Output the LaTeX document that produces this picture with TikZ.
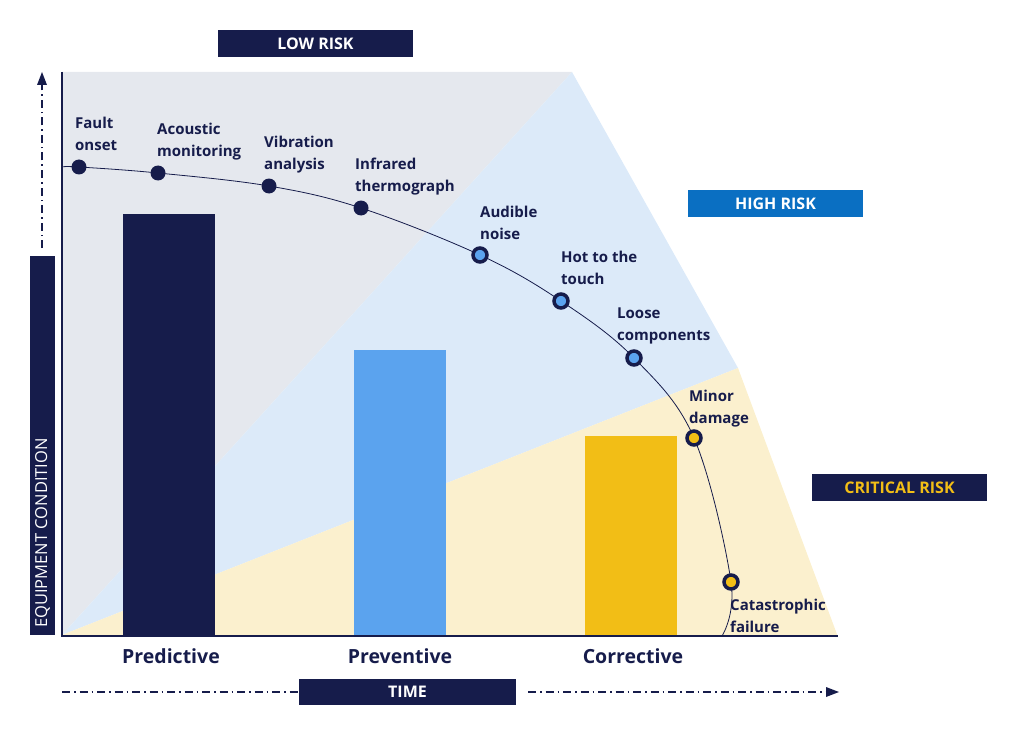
\documentclass[tikz,border=0pt]{standalone}
\usepackage{fontspec}
\setmainfont{Open Sans}
\begin{document}
\begin{tikzpicture}[x=1pt,y=-1pt,
  lbl/.style={anchor=north west,align=left,text=nv,font=\bfseries\fontsize{15}{22}\selectfont,inner sep=0pt},
  tag/.style={fill=nv,text=white,font=\bfseries\fontsize{16}{18}\selectfont,inner sep=0pt},
  cat/.style={text=nv,font=\bfseries\fontsize{19.5}{22}\selectfont},
  dd/.style={nv,line width=1.6pt,dash pattern=on 8pt off 4pt on 1.5pt off 4pt},
  d1/.style={circle,fill=nv,minimum size=15pt,inner sep=0pt},
  d2/.style={circle,draw=nv,line width=3.5pt,fill=bl,minimum size=14pt,inner sep=0pt},
  d3/.style={circle,draw=nv,line width=3.5pt,fill=yl,minimum size=14pt,inner sep=0pt}]
\definecolor{nv}{HTML}{161C4B}
\definecolor{bl}{HTML}{5BA3EE}
\definecolor{yl}{HTML}{F2BE16}
\definecolor{gr}{HTML}{E5E8EE}
\definecolor{lb}{HTML}{DCEAF9}
\definecolor{ly}{HTML}{FBF0CE}
\definecolor{hb}{HTML}{0A6FC2}
\useasboundingbox (0,0) rectangle (1024,730);
\fill[gr] (62,72) -- (572,72) -- (62,635) -- cycle;
\fill[lb] (62,635) -- (572,72) -- (738,368) -- cycle;
\fill[ly] (62,635) -- (738,368) -- (838,637) -- cycle;
\fill[nv] (123,214) rectangle (215,635);
\fill[bl] (354,350) rectangle (446,635);
\fill[yl] (585,436) rectangle (677,635);
\draw[nv,line width=2.5pt] (62,72) -- (62,636) -- (838,636);
\draw[nv,line width=0.8pt] plot[smooth,tension=0.6] coordinates {(62,167) (79,167) (158,173) (269,186) (361,208) (480,255) (561,301) (634,358) (694,438) (731,582) (722,636)};
\node[d1] (p1) at (79,167) {};
\node[d1] (p2) at (158,173) {};
\node[d1] (p3) at (269,186) {};
\node[d1] (p4) at (361,208) {};
\node[d2] (p5) at (480,255) {};
\node[d2] (p6) at (561,301) {};
\node[d2] (p7) at (634,358) {};
\node[d3] (p8) at (694,438) {};
\node[d3] (p9) at (731,582) {};
\node[lbl] at (75,117) {Fault\\onset};
\node[lbl] at (157,123) {Acoustic\\monitoring};
\node[lbl] at (264,136) {Vibration\\analysis};
\node[lbl] at (355,158) {Infrared\\thermograph};
\node[lbl] at (480,206) {Audible\\noise};
\node[lbl] at (561,251) {Hot to the\\touch};
\node[lbl] at (617,308) {Loose\\components};
\node[lbl] at (689,390) {Minor\\damage};
\node[lbl] at (730,599) {Catastrophic\\failure};
\node[tag,minimum width=195pt,minimum height=27pt] (low) at (315.5,43.5) {LOW RISK};
\node[tag,fill=hb,minimum width=175pt,minimum height=27pt] (high) at (775.5,203.5) {HIGH RISK};
\node[tag,text=yl,minimum width=175pt,minimum height=27pt] (crit) at (899.5,487.5) {CRITICAL RISK};
\node[tag,minimum width=217pt,minimum height=26pt] (time) at (407.5,692) {TIME};
\node[tag,rotate=90,minimum width=379pt,minimum height=25pt] (eq) at (42.5,445.5) {};
\node[rotate=90,anchor=west,text=white,font=\fontsize{16.5}{18}\selectfont,inner sep=0pt] (eqt) at (42.5,628) {EQUIPMENT CONDITION};
\node[cat] at (171,656) {Predictive};
\node[cat] at (400,656) {Preventive};
\node[cat] at (633,656) {Corrective};
\coordinate (va) at (42,248); \coordinate (vb) at (42,72);
\draw[dd] (va) -- (42,85);
\fill[nv] (vb) -- (37,85) -- (47,85) -- cycle;
\coordinate (ha) at (62,692); \coordinate (hb2) at (839,692);
\draw[dd] (ha) -- (time.west);
\draw[dd] (528,692) -- (826,692);
\fill[nv] (hb2) -- (826,687) -- (826,697) -- cycle;
\end{tikzpicture}
\end{document}
